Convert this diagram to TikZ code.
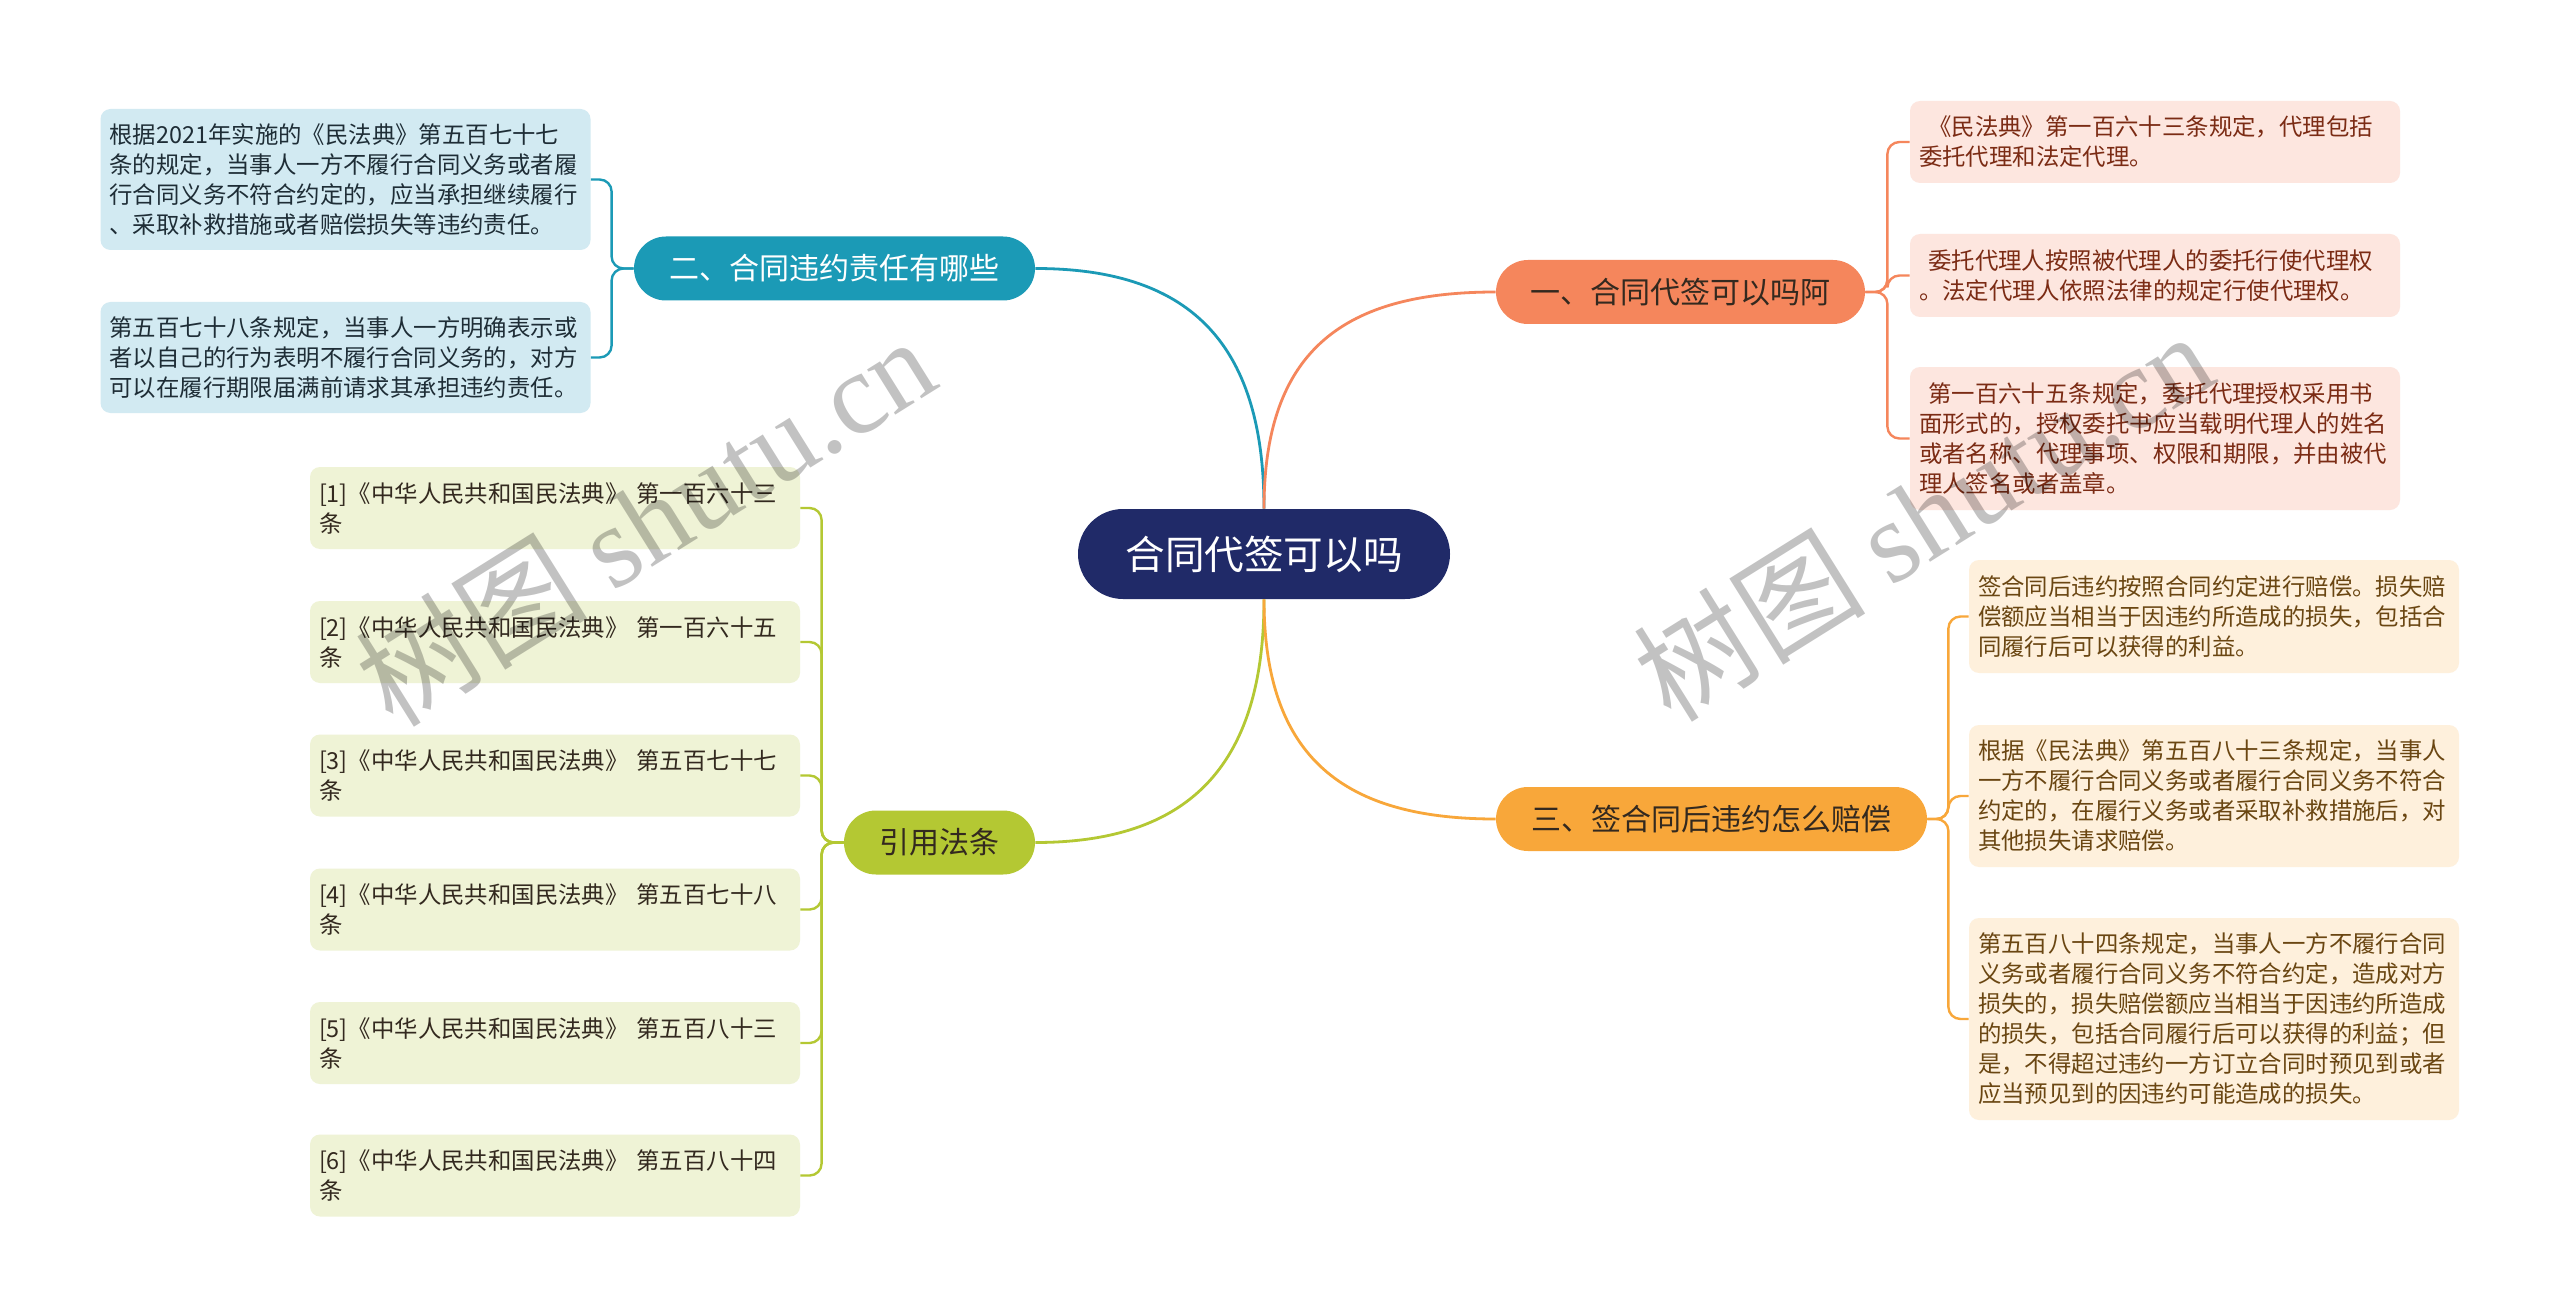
\documentclass[tikz,border=0pt]{standalone}
\usepackage{fontspec}
\setmainfont{Noto Sans CJK SC}
\newfontfamily\wmfont{Liberation Serif}

\definecolor{zhuti}{HTML}{202A68}
\definecolor{lan}{HTML}{1B9AB6}
\definecolor{cheng}{HTML}{F5865C}
\definecolor{huang}{HTML}{F8A73A}
\definecolor{lv}{HTML}{B4C833}
\definecolor{lanqian}{HTML}{D2EAF2}
\definecolor{chengqian}{HTML}{FDE6DF}
\definecolor{huangqian}{HTML}{FEF0DC}
\definecolor{lvqian}{HTML}{EFF3D6}
\definecolor{lanzi}{HTML}{1E2D36}
\definecolor{chengzi}{HTML}{7B2B14}
\definecolor{huangzi}{HTML}{6A4612}
\definecolor{shenzi}{HTML}{33291F}

\begin{document}
\begin{tikzpicture}[x=0.5pt, y=-0.5pt,
    zhongxinjie/.style={fill=zhuti, text=white, rounded corners=22.5pt,
        minimum width=186pt, minimum height=45pt, inner sep=0pt,
        font=\fontsize{19.8}{24}\selectfont},
    fenzhi/.style={rounded corners=16pt, minimum height=32pt, inner sep=0pt,
        font=\fontsize{15}{18}\selectfont},
    yezi/.style={rounded corners=5pt, text width=236pt, inner xsep=4.5pt,
        inner ysep=4pt, align=left, font=\fontsize{11.7}{15}\selectfont},
    lianxian/.style={line width=1.4pt},
    zhixian/.style={line width=1.2pt, rounded corners=6pt},
    shuiyin/.style={text=black, text opacity=0.24, rotate=32,
        font=\fontsize{58}{60}\selectfont}]

    \useasboundingbox[fill=white] (0,0) rectangle (2560,1316);

    % 中心主题
    \node[zhongxinjie] (zhongxin) at (1264,554) {合同代签可以吗};

    % 分支
    \node[fenzhi, fill=lan, text=white, minimum width=200.5pt] (erzhi) at (834.5,268.5) {二、合同违约责任有哪些};
    \node[fenzhi, fill=cheng, text=shenzi, minimum width=184.5pt] (yizhi) at (1680.5,292) {一、合同代签可以吗阿};
    \node[fenzhi, fill=huang, text=shenzi, minimum width=215.5pt] (sanzhi) at (1711.5,819) {三、签合同后违约怎么赔偿};
    \node[fenzhi, fill=lv, text=shenzi, minimum width=95.5pt] (yinzhi) at (939.5,842.5) {引用法条};

    % 中心到分支
    \draw[lianxian, lan] (zhongxin.north) .. controls +(0,-170) and +(150,0) .. (erzhi.east);
    \draw[lianxian, cheng] (zhongxin.north) .. controls +(0,-160) and +(-150,0) .. (yizhi.west);
    \draw[lianxian, lv] (zhongxin.south) .. controls +(0,170) and +(150,0) .. (yinzhi.east);
    \draw[lianxian, huang] (zhongxin.south) .. controls +(0,160) and +(-150,0) .. (sanzhi.west);

    % 左上：违约责任
    \node[yezi, fill=lanqian, text=lanzi, minimum height=70.5pt] (erA) at (345.5,179.5)
        {根据2021年实施的《民法典》第五百七十七\\条的规定，当事人一方不履行合同义务或者履\\行合同义务不符合约定的，应当承担继续履行\\、采取补救措施或者赔偿损失等违约责任。};
    \node[yezi, fill=lanqian, text=lanzi, minimum height=55.5pt] (erB) at (345.5,357.5)
        {第五百七十八条规定，当事人一方明确表示或\\者以自己的行为表明不履行合同义务的，对方\\可以在履行期限届满前请求其承担违约责任。};
    \draw[zhixian, lan] (erzhi.west) -- ++(-22,0) |- (erA.east);
    \draw[zhixian, lan] (erzhi.west) -- ++(-22,0) |- (erB.east);

    % 右上：代签
    \node[yezi, fill=chengqian, text=chengzi, minimum height=41pt] (yiA) at (2155,142)
        {\hspace*{0.4em}《民法典》第一百六十三条规定，代理包括\\委托代理和法定代理。};
    \node[yezi, fill=chengqian, text=chengzi, minimum height=41.5pt] (yiB) at (2155,275.5)
        {\hspace*{0.4em}委托代理人按照被代理人的委托行使代理权\\。法定代理人依照法律的规定行使代理权。};
    \node[yezi, fill=chengqian, text=chengzi, minimum height=71.5pt] (yiC) at (2155,438.5)
        {\hspace*{0.4em}第一百六十五条规定，委托代理授权采用书\\面形式的，授权委托书应当载明代理人的姓名\\或者名称、代理事项、权限和期限，并由被代\\理人签名或者盖章。};
    \draw[zhixian, cheng] (yizhi.east) -- ++(22,0) |- (yiA.west);
    \draw[zhixian, cheng] (yizhi.east) -- ++(22,0) |- (yiB.west);
    \draw[zhixian, cheng] (yizhi.east) -- ++(22,0) |- (yiC.west);

    % 右下：赔偿
    \node[yezi, fill=huangqian, text=huangzi, minimum height=56.5pt] (sanA) at (2214,616.5)
        {签合同后违约按照合同约定进行赔偿。损失赔\\偿额应当相当于因违约所造成的损失，包括合\\同履行后可以获得的利益。};
    \node[yezi, fill=huangqian, text=huangzi, minimum height=71pt] (sanB) at (2214,796)
        {根据《民法典》第五百八十三条规定，当事人\\一方不履行合同义务或者履行合同义务不符合\\约定的，在履行义务或者采取补救措施后，对\\其他损失请求赔偿。};
    \node[yezi, fill=huangqian, text=huangzi, minimum height=101pt] (sanC) at (2214,1019)
        {第五百八十四条规定，当事人一方不履行合同\\义务或者履行合同义务不符合约定，造成对方\\损失的，损失赔偿额应当相当于因违约所造成\\的损失，包括合同履行后可以获得的利益；但\\是，不得超过违约一方订立合同时预见到或者\\应当预见到的因违约可能造成的损失。};
    \draw[zhixian, huang] (sanzhi.east) -- ++(21,0) |- (sanA.west);
    \draw[zhixian, huang] (sanzhi.east) -- ++(21,0) |- (sanB.west);
    \draw[zhixian, huang] (sanzhi.east) -- ++(21,0) |- (sanC.west);

    % 左下：引用法条
    \node[yezi, fill=lvqian, text=shenzi, minimum height=41pt] (yin1) at (555,508)
        {[1]《中华人民共和国民法典》 第一百六十三\\条};
    \node[yezi, fill=lvqian, text=shenzi, minimum height=41pt] (yin2) at (555,642)
        {[2]《中华人民共和国民法典》 第一百六十五\\条};
    \node[yezi, fill=lvqian, text=shenzi, minimum height=41pt] (yin3) at (555,775.5)
        {[3]《中华人民共和国民法典》 第五百七十七\\条};
    \node[yezi, fill=lvqian, text=shenzi, minimum height=41pt] (yin4) at (555,909.5)
        {[4]《中华人民共和国民法典》 第五百七十八\\条};
    \node[yezi, fill=lvqian, text=shenzi, minimum height=41pt] (yin5) at (555,1043)
        {[5]《中华人民共和国民法典》 第五百八十三\\条};
    \node[yezi, fill=lvqian, text=shenzi, minimum height=41pt] (yin6) at (555,1175.5)
        {[6]《中华人民共和国民法典》 第五百八十四\\条};
    \draw[zhixian, lv] (yinzhi.west) -- ++(-22,0) |- (yin1.east);
    \draw[zhixian, lv] (yinzhi.west) -- ++(-22,0) |- (yin2.east);
    \draw[zhixian, lv] (yinzhi.west) -- ++(-22,0) |- (yin3.east);
    \draw[zhixian, lv] (yinzhi.west) -- ++(-22,0) |- (yin4.east);
    \draw[zhixian, lv] (yinzhi.west) -- ++(-22,0) |- (yin5.east);
    \draw[zhixian, lv] (yinzhi.west) -- ++(-22,0) |- (yin6.east);

    % 水印
    \node[shuiyin] (shuiyin1) at (645,520) {树图 {\wmfont shutu.cn}};
    \node[shuiyin] (shuiyin2) at (1923,515) {树图 {\wmfont shutu.cn}};
\end{tikzpicture}
\end{document}
